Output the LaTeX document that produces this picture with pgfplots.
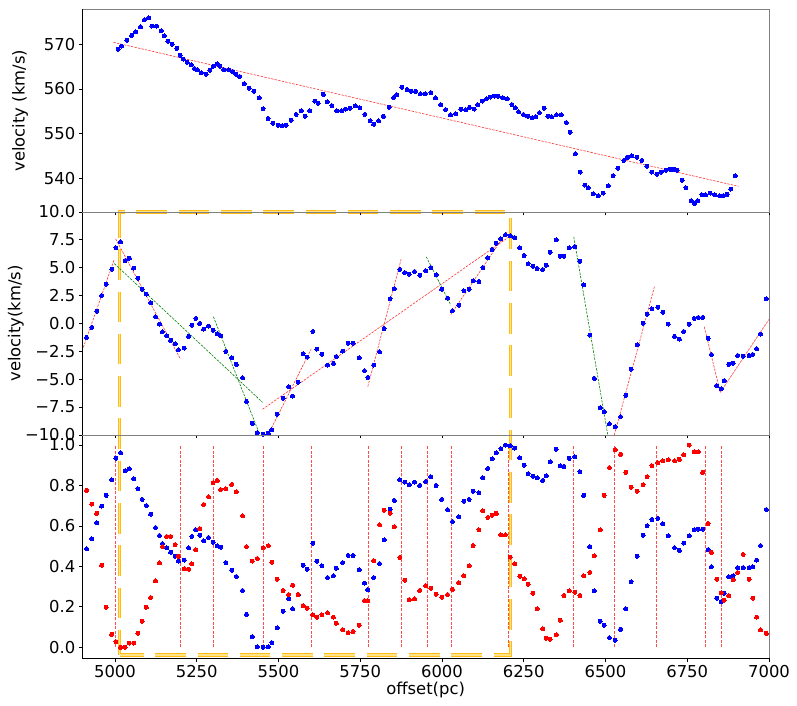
\documentclass[border=0pt]{standalone}
\usepackage{fontspec}
\setmainfont{DejaVu Sans}
\usepackage{pgfplots}
\usepackage{pgfplotstable}
\pgfplotsset{compat=1.18}
\definecolor{mblue}{RGB}{0,0,255}
\definecolor{mred}{RGB}{255,0,0}
\definecolor{mgreen}{RGB}{0,128,0}
\definecolor{spg}{RGB}{128,128,128}
\definecolor{boxo}{RGB}{255,188,20}
\definecolor{boxi}{RGB}{255,228,140}

\pgfplotstableread{
X T
5010 568.9
5020 569.6
5036 570.9
5051 572.0
5063 572.8
5078 573.9
5090 575.5
5103 575.9
5113 574.1
5127 574.1
5141 573.0
5151 571.9
5162 570.7
5175 570.0
5189 569.1
5199 567.6
5209 566.7
5221 566.0
5233 565.4
5243 564.6
5252 564.3
5264 563.6
5279 563.3
5290 564.2
5301 565.1
5312 565.6
5321 565.1
5333 564.3
5348 564.3
5360 563.9
5370 563.3
5381 562.8
5395 561.2
5410 560.2
5425 559.5
5441 558.0
5453 555.6
5468 553.4
5483 552.3
5499 551.9
5511 551.8
5523 551.9
5539 553.0
5554 554.3
5570 555.1
5582 553.9
5596 555.1
5611 557.3
5621 556.8
5637 558.8
5649 557.1
5663 556.3
5678 555.1
5693 555.1
5705 555.5
5719 555.7
5735 556.2
5749 555.8
5764 554.3
5780 552.9
5791 552.1
5806 552.9
5821 553.9
5838 555.9
5852 558.1
5862 558.7
5877 560.4
5893 559.9
5906 559.5
5919 559.5
5934 558.9
5949 558.9
5966 559.2
5980 558.0
5996 556.5
6011 555.4
6026 554.2
6042 554.4
6058 555.5
6073 555.3
6084 555.9
6099 555.5
6109 556.5
6123 557.3
6136 557.8
6147 558.2
6160 558.4
6172 558.4
6186 558.0
6200 557.8
6214 556.5
6224 555.8
6234 554.9
6249 554.3
6262 553.9
6276 553.6
6287 553.8
6298 554.7
6312 555.7
6324 553.9
6335 553.8
6350 554.2
6365 554.2
6380 552.5
6392 550.3
6408 545.5
6423 541.4
6437 538.5
6447 537.9
6463 536.5
6478 536.1
6493 536.7
6508 538.3
6523 540.6
6538 542.3
6556 544.0
6567 544.7
6581 545.0
6596 544.7
6611 544.0
6626 542.7
6641 541.4
6657 540.9
6670 541.4
6684 541.8
6698 542.0
6709 542.0
6719 541.8
6734 539.6
6746 537.9
6762 535.0
6772 534.4
6782 535.0
6795 536.3
6806 536.3
6820 536.7
6834 536.3
6849 536.1
6860 536.1
6872 536.4
6883 537.6
6897 540.6
}\toptab

\pgfplotstableread{
X V B R
4913 -1.25 0.487 0.776
4929 -0.36 0.536 0.708
4944 1.10 0.616 0.662
4959 2.51 0.698 0.406
4973 3.52 0.751 0.198
4990 4.87 0.828 0.064
5003 6.78 0.934 0.028
5017 7.31 0.962 0.000
5031 5.64 0.873 0.000
5044 5.85 0.883 0.021
5057 4.96 0.833 0.021
5070 4.06 0.784 0.069
5083 3.07 0.731 0.129
5096 2.63 0.701 0.198
5109 1.85 0.658 0.246
5124 0.60 0.592 0.328
5136 -0.06 0.553 0.417
5145 -0.75 0.513 0.498
5158 -1.10 0.492 0.548
5170 -1.52 0.470 0.548
5184 -1.82 0.450 0.508
5194 -2.36 0.426 0.450
5212 -2.21 0.431 0.389
5225 -1.16 0.492 0.386
5235 -0.15 0.548 0.413
5247 0.45 0.581 0.483
5259 0.00 0.554 0.587
5271 -0.51 0.526 0.706
5286 -0.24 0.543 0.744
5300 -0.60 0.520 0.814
5313 -0.93 0.502 0.825
5323 -1.10 0.495 0.780
5339 -2.51 0.419 0.784
5357 -3.07 0.381 0.805
5371 -3.67 0.350 0.769
5390 -4.87 0.281 0.650
5402 -6.99 0.163 0.498
5420 -8.96 0.053 0.426
5435 -9.79 0.003 0.439
5453 -9.94 0.000 0.492
5469 -9.85 0.003 0.503
5480 -9.55 0.023 0.421
5496 -8.15 0.097 0.337
5514 -6.69 0.178 0.281
5531 -5.67 0.239 0.261
5543 -6.51 0.191 0.307
5560 -5.28 0.260 0.261
5575 -2.72 0.406 0.206
5588 -3.01 0.386 0.193
5605 -0.72 0.515 0.160
5617 -2.30 0.426 0.149
5633 -2.75 0.403 0.160
5650 -3.73 0.345 0.170
5668 -3.58 0.353 0.149
5677 -2.96 0.391 0.119
5696 -2.48 0.419 0.086
5713 -1.76 0.454 0.073
5728 -1.76 0.454 0.078
5747 -3.07 0.384 0.109
5763 -4.24 0.317 0.231
5773 -4.84 0.284 0.231
5791 -3.73 0.345 0.427
5809 -2.54 0.414 0.606
5823 -0.45 0.531 0.678
5841 2.21 0.683 0.662
5854 3.10 0.726 0.596
5871 4.84 0.828 0.444
5886 4.57 0.817 0.332
5900 4.42 0.804 0.236
5916 4.66 0.817 0.239
5932 4.33 0.800 0.281
5950 4.72 0.820 0.305
5966 5.01 0.842 0.292
5982 4.36 0.800 0.262
5999 3.07 0.731 0.248
6017 2.27 0.680 0.261
6032 1.13 0.622 0.287
6051 1.64 0.645 0.320
6067 2.93 0.723 0.353
6083 3.07 0.731 0.403
6095 3.82 0.771 0.503
6113 3.76 0.764 0.581
6125 5.01 0.837 0.675
6140 5.88 0.884 0.642
6153 6.63 0.931 0.653
6166 7.19 0.962 0.662
6180 7.58 0.982 0.556
6194 7.94 1.000 0.556
6209 7.85 0.997 0.446
6222 7.70 0.985 0.413
6238 6.78 0.937 0.351
6251 6.09 0.901 0.338
6263 5.34 0.858 0.312
6278 5.13 0.845 0.267
6291 4.93 0.837 0.191
6308 4.84 0.825 0.092
6319 5.22 0.848 0.045
6331 6.39 0.917 0.040
6349 7.49 0.979 0.061
6362 6.03 0.898 0.134
6373 6.03 0.894 0.256
6389 6.78 0.934 0.279
6406 6.90 0.942 0.272
6422 5.58 0.868 0.256
6433 3.46 0.751 0.353
6452 -1.04 0.498 0.370
6466 -4.93 0.279 0.452
6484 -7.55 0.129 0.581
6496 -7.94 0.109 0.751
6512 -9.01 0.048 0.889
6530 -9.25 0.035 0.977
6546 -8.36 0.089 0.954
6562 -6.45 0.190 0.865
6578 -4.09 0.323 0.792
6597 -1.91 0.450 0.772
6615 0.03 0.554 0.804
6627 0.84 0.601 0.843
6642 1.31 0.632 0.898
6660 1.46 0.637 0.913
6675 1.01 0.611 0.922
6692 -0.06 0.551 0.926
6711 -1.16 0.492 0.922
6726 -1.40 0.479 0.929
6739 -0.72 0.515 0.952
6756 -0.06 0.551 1.000
6771 0.45 0.581 0.967
6784 0.54 0.584 0.967
6797 0.54 0.584 0.865
6814 -1.34 0.483 0.612
6824 -2.78 0.398 0.470
6840 -5.58 0.243 0.337
6854 -5.85 0.226 0.269
6863 -5.13 0.267 0.233
6877 -3.67 0.348 0.256
6890 -3.58 0.353 0.333
6904 -2.87 0.394 0.370
6921 -2.93 0.394 0.459
6939 -2.87 0.394 0.337
6950 -2.78 0.398 0.243
6962 -2.27 0.431 0.149
6974 -0.96 0.503 0.086
6992 2.21 0.681 0.069
}\midtab

\pgfplotsset{
 panel/.style={
   scale only axis, width=686.7pt,
   xmin=4900, xmax=7000,
   xtick={5000,5250,5500,5750,6000,6250,6500,6750,7000},
   tick align=outside, xtick pos=left, ytick pos=left,
   major tick length=3.5pt,
   tick style={black, line width=0.8pt},
   axis line style={draw=none},
   ticklabel style={font=\fontsize{16.4}{19}\selectfont},
   label style={font=\fontsize{16.4}{19}\selectfont},
 },
 dots/.style={only marks, mark=*, mark size=2pt, color=#1, mark options={draw=#1, fill=#1, line width=0pt}},
 fitr/.style={no marks, mred!80, line width=0.6pt, dash pattern=on 2.4pt off 1.2pt},
 fitg/.style={no marks, mgreen, line width=0.6pt, dash pattern=on 2.4pt off 1.2pt},
 vl/.style={no marks, mred!70, line width=0.6pt, dash pattern=on 3pt off 1.5pt},
}

\begin{document}
\begin{tikzpicture}
\useasboundingbox (-82.3pt,-46.7pt) rectangle (714.7pt,658.3pt);

% bottom panel
\begin{axis}[panel, at={(0pt,0pt)}, anchor=south west, height=223.4pt,
  ymin=-0.0544, ymax=1.05, clip=false,
  ytick={0,0.2,0.4,0.6,0.8,1}, yticklabels={0.0,0.2,0.4,0.6,0.8,1.0},
  xticklabels={5000,5250,5500,5750,6000,6250,6500,6750,7000},
  xlabel={offset(pc)},
  xlabel style={at={(axis description cs:0.5,0)}, anchor=center, yshift=-31.7pt}]
\addplot[vl] coordinates {(5002,0) (5002,1)};
\addplot[vl] coordinates {(5201,0) (5201,1)};
\addplot[vl] coordinates {(5301,0) (5301,1)};
\addplot[vl] coordinates {(5453,0) (5453,1)};
\addplot[vl] coordinates {(5453,0) (5453,1)};
\addplot[vl] coordinates {(5601,0) (5601,1)};
\addplot[vl] coordinates {(5776,0) (5776,1)};
\addplot[vl] coordinates {(5876,0) (5876,1)};
\addplot[vl] coordinates {(5876,0) (5876,1)};
\addplot[vl] coordinates {(5954,0) (5954,1)};
\addplot[vl] coordinates {(6028,0) (6028,1)};
\addplot[vl] coordinates {(6028,0) (6028,1)};
\addplot[vl] coordinates {(6204,0) (6204,1)};
\addplot[vl] coordinates {(6403,0) (6403,1)};
\addplot[vl] coordinates {(6528,0) (6528,1)};
\addplot[vl] coordinates {(6654,0) (6654,1)};
\addplot[vl] coordinates {(6804,0) (6804,1)};
\addplot[vl] coordinates {(6804,0) (6804,1)};
\addplot[vl] coordinates {(6854,0) (6854,1)};
\addplot[vl] coordinates {(6854,0) (6854,1)};
\addplot[dots=mblue] table[x=X, y=B] {\midtab};
\addplot[dots=mred] table[x=X, y=R] {\midtab};
\draw[boxo, line width=1pt, double=boxi, double distance=1.2pt,
      dash pattern=on 30.6pt off 11.7pt, dash phase=6.6pt]
  (axis cs:5014,-0.038) -- (axis cs:6210,-0.038) -- (axis cs:6210,2.1518)
  -- (axis cs:5014,2.1518) -- cycle;
\draw[spg, line width=0.8pt] (rel axis cs:0,1) -- (rel axis cs:1,1) -- (rel axis cs:1,0);
\draw[black, line width=0.8pt] (rel axis cs:0,1) -- (rel axis cs:0,0) -- (rel axis cs:1,0);
\end{axis}

% middle panel
\begin{axis}[panel, at={(0pt,223.35pt)}, anchor=south west, height=223pt,
  ymin=-10, ymax=10, clip mode=individual,
  ytick={-10,-7.5,-5,-2.5,0,2.5,5,7.5,10},
  yticklabels={−10.0,−7.5,−5.0,−2.5,0.0,2.5,5.0,7.5,10.0},
  xticklabels={},
  ylabel={velocity(km/s)},
  ylabel style={at={(axis description cs:-0.0966,0.5)}, anchor=center}]
\addplot[fitr] coordinates {(4903,-2.15) (4998,5.76)};
\addplot[fitr] coordinates {(5002,7.58) (5199,-3.13)};
\addplot[fitg] coordinates {(4998,5.37) (5451,-7.07)};
\addplot[fitg] coordinates {(5301,0.60) (5439,-9.70)};
\addplot[fitr] coordinates {(5451,-7.7) (6209,7.85)};
\addplot[fitr] coordinates {(5469,-9.94) (5600,-2.30)};
\addplot[fitr] coordinates {(5773,-5.67) (5875,5.76)};
\addplot[fitg] coordinates {(5952,5.97) (6027,1.64)};
\addplot[fitr] coordinates {(6027,0.8) (6200,8.3)};
\addplot[fitg] coordinates {(6403,7.76) (6507,-10.0)};
\addplot[fitr] coordinates {(6527,-10) (6650,3.34)};
\addplot[fitr] coordinates {(6802,-0.30) (6851,-6.18)};
\addplot[fitr] coordinates {(6851,-6.18) (7002,0.45)};
\addplot[dots=mblue] table[x=X, y=V] {\midtab};
\draw[spg, line width=0.8pt] (rel axis cs:0,1) -- (rel axis cs:1,1) -- (rel axis cs:1,0) -- (rel axis cs:0,0);
\draw[black, line width=0.8pt] (rel axis cs:0,1) -- (rel axis cs:0,0);
\end{axis}

% top panel
\begin{axis}[panel, at={(0pt,446.3pt)}, anchor=south west, height=202.7pt,
  ymin=532.46, ymax=577.84, clip mode=individual,
  ytick={540,550,560,570}, yticklabels={540,550,560,570},
  xticklabels={},
  ylabel={velocity (km/s)},
  ylabel style={at={(axis description cs:-0.0907,0.5)}, anchor=center}]
\addplot[fitr] coordinates {(4995,570.45) (6907,538.2)};
\addplot[dots=mblue] table[x=X, y=T] {\toptab};
\draw[spg, line width=0.8pt] (rel axis cs:0,1) -- (rel axis cs:1,1) -- (rel axis cs:1,0) -- (rel axis cs:0,0);
\draw[black, line width=0.8pt] (rel axis cs:0,1) -- (rel axis cs:0,0);
\end{axis}
\end{tikzpicture}
\end{document}
